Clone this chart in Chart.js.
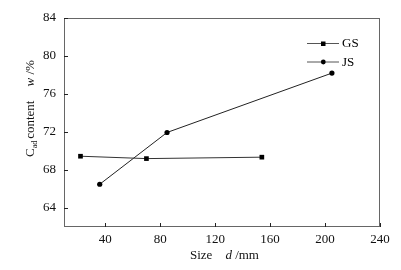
<!DOCTYPE html>
<html>
<head>
<meta charset="utf-8">
<script src="https://cdn.jsdelivr.net/npm/chart.js@4.4.0/dist/chart.umd.min.js"></script>
<style>
  html, body { margin: 0; padding: 0; background: #fff; }
  #wrap { width: 401px; height: 270px; }
</style>
</head>
<body>
<div id="wrap"><canvas id="myChart"></canvas></div>
<script>
// data
var gsSize = [22, 70, 154];
var gsContent = [69.45, 69.2, 69.35];
var jsSize = [36, 85, 205];
var jsContent = [66.5, 71.95, 78.2];
var xTicks = [40, 80, 120, 160, 200, 240];
var yTicks = [64, 68, 72, 76, 80, 84];

var serif = "'Liberation Serif', 'DejaVu Serif', serif";

function toPoints(xs, ys) {
    return xs.map(function (x, i) { return { x: x, y: ys[i] }; });
}

// frame, inward ticks, legend and axis titles
var decor = {
    id: 'decor',
    afterDraw: function (chart) {
        var c = chart.ctx;
        var a = chart.chartArea;
        var xs = chart.scales.x, ys = chart.scales.y;
        c.save();
        c.strokeStyle = '#666';
        c.lineWidth = 1;
        c.strokeRect(a.left + 0.5, a.top + 0.5, a.right - a.left - 1, a.bottom - a.top - 1);
        c.strokeStyle = '#222';
        c.beginPath();
        xTicks.forEach(function (t) {
            var px = Math.round(xs.getPixelForValue(t)) + 0.5;
            c.moveTo(px, a.bottom);
            c.lineTo(px, a.bottom - 4);
        });
        yTicks.forEach(function (t) {
            var py = Math.round(ys.getPixelForValue(t)) + 0.5;
            c.moveTo(a.left, py);
            c.lineTo(a.left + 4, py);
        });
        c.stroke();

        // legend
        var items = [['GS', 'rect'], ['JS', 'circle']];
        items.forEach(function (it, i) {
            var y = 43 + i * 18.5;
            c.strokeStyle = '#555';
            c.beginPath();
            c.moveTo(307, y + 0.5);
            c.lineTo(339, y + 0.5);
            c.stroke();
            c.fillStyle = '#000';
            if (it[1] === 'rect') {
                c.fillRect(321, y - 1.5, 4.5, 4.5);
            } else {
                c.beginPath();
                c.arc(323.3, y + 0.5, 2.4, 0, Math.PI * 2);
                c.fill();
            }
            c.font = '13px ' + serif;
            c.textBaseline = 'middle';
            c.fillText(it[0], 342, y + 1);
        });

        // x title
        c.fillStyle = '#111';
        c.textBaseline = 'alphabetic';
        c.font = '13px ' + serif;
        var x0 = 190, yb = 259;
        c.fillText('Size', x0, yb);
        x0 += c.measureText('Size').width + 13;
        c.font = 'italic 13px ' + serif;
        c.fillText('d', x0, yb);
        x0 += c.measureText('d').width;
        c.font = '13px ' + serif;
        c.fillText(' /mm', x0, yb);

        // y title
        c.translate(34, 157);
        c.rotate(-Math.PI / 2);
        var px = 0;
        c.font = '13px ' + serif;
        c.fillText('C', px, 0);
        px += c.measureText('C').width;
        c.font = '8px ' + serif;
        c.fillText('ad', px, 3);
        px += c.measureText('ad').width + 2;
        c.font = '13px ' + serif;
        c.fillText('content', px, 0);
        px += c.measureText('content').width + 14;
        c.font = 'italic 13px ' + serif;
        c.fillText('w', px, 0);
        px += c.measureText('w').width;
        c.font = '13px ' + serif;
        c.fillText(' /%', px, 0);
        c.restore();
    }
};

var ctx = document.getElementById('myChart').getContext('2d');
var myChart = new Chart(ctx, {
    type: 'scatter',
    data: {
        datasets: [{
            label: 'GS',
            data: toPoints(gsSize, gsContent),
            showLine: true,
            borderColor: '#333',
            borderWidth: 1,
            backgroundColor: '#000',
            pointStyle: 'rect',
            pointRadius: 3.3,
            pointBorderWidth: 0
        }, {
            label: 'JS',
            data: toPoints(jsSize, jsContent),
            showLine: true,
            borderColor: '#222',
            borderWidth: 1,
            backgroundColor: '#000',
            pointStyle: 'circle',
            pointRadius: 2.6,
            pointBorderWidth: 0
        }]
    },
    options: {
        responsive: true,
        maintainAspectRatio: false,
        animation: false,
        layout: { padding: { left: 0, top: 18, right: 21, bottom: 0 } },
        plugins: { legend: { display: false }, tooltip: { enabled: false } },
        scales: {
            x: {
                type: 'linear',
                min: 10,
                max: 240,
                afterBuildTicks: function (s) { s.ticks = xTicks.map(function (v) { return { value: v }; }); },
                afterFit: function (s) { s.height = 43; },
                grid: { display: false, drawTicks: false, tickLength: 0 },
                border: { display: false },
                ticks: { color: '#111', font: { family: serif, size: 13 }, padding: 5, maxRotation: 0 }
            },
            y: {
                type: 'linear',
                min: 62,
                max: 84,
                afterBuildTicks: function (s) { s.ticks = yTicks.map(function (v) { return { value: v }; }); },
                afterFit: function (s) { s.width = 64; },
                grid: { display: false, drawTicks: false, tickLength: 0 },
                border: { display: false },
                ticks: { color: '#111', font: { family: serif, size: 13 }, padding: 8 }
            }
        }
    },
    plugins: [decor]
});
</script>
</body>
</html>
